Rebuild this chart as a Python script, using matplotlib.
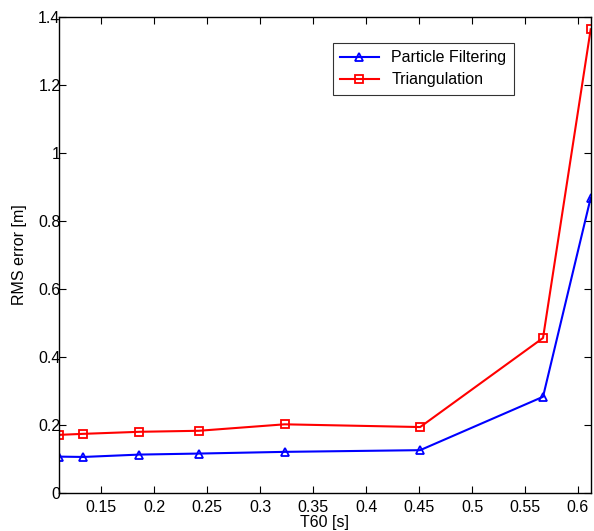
import matplotlib
matplotlib.use('Agg')
import matplotlib.pyplot as plt

plt.rcParams['font.family'] = ['Liberation Sans', 'DejaVu Sans']

t60 = [0.11, 0.133, 0.186, 0.242, 0.323, 0.451, 0.567, 0.612]
particle_filtering = [0.107, 0.106, 0.113, 0.116, 0.121, 0.126, 0.283, 0.868]
triangulation = [0.171, 0.174, 0.180, 0.183, 0.202, 0.194, 0.456, 1.364]

x_ticks = [0.15, 0.2, 0.25, 0.3, 0.35, 0.4, 0.45, 0.5, 0.55, 0.6]
x_tick_labels = ['0.15', '0.2', '0.25', '0.3', '0.35', '0.4', '0.45', '0.5', '0.55', '0.6']
y_ticks = [0, 0.2, 0.4, 0.6, 0.8, 1.0, 1.2, 1.4]
y_tick_labels = ['0', '0.2', '0.4', '0.6', '0.8', '1', '1.2', '1.4']

fig = plt.figure(figsize=(5.94, 5.31), dpi=100)
ax = fig.add_axes([59 / 594, 1 - 493 / 531, (591 - 59) / 594, (493 - 17) / 531])

ax.plot(t60, particle_filtering, color='#0000ff', lw=1.5, marker='^',
        markersize=6, markerfacecolor='none', markeredgewidth=1.3,
        label='Particle Filtering')
ax.plot(t60, triangulation, color='#ff0000', lw=1.5, marker='s',
        markersize=5.5, markerfacecolor='none', markeredgewidth=1.3,
        label='Triangulation')

ax.set_xlim(0.11, 0.6123)
ax.set_ylim(0, 1.4)
ax.set_xticks(x_ticks)
ax.set_xticklabels(x_tick_labels)
ax.set_yticks(y_ticks)
ax.set_yticklabels(y_tick_labels)
ax.tick_params(direction='in', top=True, right=True, length=5, width=0.8,
               labelsize=11.5)
ax.tick_params(axis='y', pad=-1)
ax.tick_params(axis='x', pad=5)
for s in ax.spines.values():
    s.set_linewidth(1.0)

ax.set_xlabel('T60 [s]', fontsize=11.5, labelpad=0)
ax.set_ylabel('RMS error [m]', fontsize=11.5, labelpad=8)

leg = ax.legend(loc='upper left', bbox_to_anchor=((333 - 59) / 532, (493 - 43) / 476),
                fontsize=11.5, frameon=True, fancybox=False, edgecolor='black',
                borderaxespad=0, handlelength=2.4, handletextpad=0.8,
                borderpad=0.45, labelspacing=0.45)
leg.get_frame().set_linewidth(0.8)

fig.savefig('out.png', dpi=100)
